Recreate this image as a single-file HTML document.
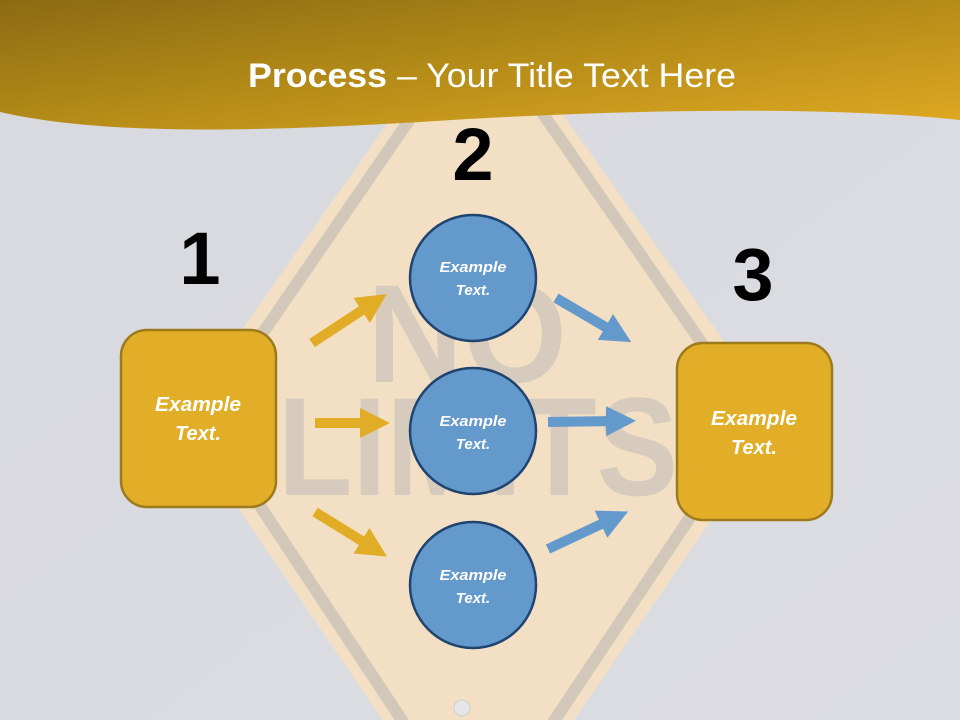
<!DOCTYPE html>
<html><head><style>
body{margin:0;width:960px;height:720px;overflow:hidden;font-family:"Liberation Sans",sans-serif}
</style></head><body>
<svg width="960" height="720" viewBox="0 0 960 720" xmlns="http://www.w3.org/2000/svg" style="display:block">
<defs>
<linearGradient id="bg" x1="0" y1="0" x2="1" y2="1"><stop offset="0" stop-color="#d8d9de"/><stop offset="1" stop-color="#dcdde3"/></linearGradient>
<linearGradient id="gold" x1="0" y1="0" x2="1" y2="1"><stop offset="0" stop-color="#8d6a12"/><stop offset="0.5" stop-color="#b58c18"/><stop offset="1" stop-color="#e0aa22"/></linearGradient>
<marker id="ag" markerWidth="3" markerHeight="3" refX="1" refY="1.5" orient="auto"><path d="M0,0 L3,1.5 L0,3 z" fill="#e1ad26"/></marker>
<marker id="ab" markerWidth="3" markerHeight="3" refX="1" refY="1.5" orient="auto"><path d="M0,0 L3,1.5 L0,3 z" fill="#6499cc"/></marker>
</defs>
<rect width="960" height="720" fill="url(#bg)"/>
<polygon points="478,-5 780,420 478,860 178,420" fill="#f3e0c4"/>
<polygon points="478,20 755,420 478,835 203,420" fill="none" stroke="#d2c8ba" stroke-width="12"/>
<text x="467" y="382" text-anchor="middle" font-size="140" font-weight="bold" fill="#d6cbbc" textLength="200" lengthAdjust="spacingAndGlyphs">NO</text>
<text x="478" y="495" text-anchor="middle" font-size="140" font-weight="bold" fill="#d6cbbc" textLength="400" lengthAdjust="spacingAndGlyphs">LIMITS</text>
<circle cx="462" cy="708" r="8" fill="#e6e6e6" stroke="#cfcfcf"/>
<path d="M0,0 H960 V120 C820,105 600,110 420,122 C250,132 100,135 0,112 Z" fill="url(#gold)"/>
<text x="492" y="87" text-anchor="middle" font-size="34" fill="#fff" textLength="488" lengthAdjust="spacingAndGlyphs"><tspan font-weight="bold">Process</tspan> – Your Title Text Here</text>
<g font-size="74" font-weight="bold" fill="#000" text-anchor="middle">
<text x="200" y="284">1</text><text x="473" y="180">2</text><text x="753" y="300">3</text></g>
<g stroke-width="10" fill="none">
<line x1="312" y1="343" x2="370" y2="305" stroke="#e1ad26" marker-end="url(#ag)"/>
<line x1="315" y1="423" x2="370" y2="423" stroke="#e1ad26" marker-end="url(#ag)"/>
<line x1="315" y1="512" x2="370" y2="546" stroke="#e1ad26" marker-end="url(#ag)"/>
<line x1="556" y1="298" x2="614" y2="332" stroke="#6499cc" marker-end="url(#ab)"/>
<line x1="548" y1="422" x2="616" y2="421" stroke="#6499cc" marker-end="url(#ab)"/>
<line x1="548" y1="549" x2="610" y2="520" stroke="#6499cc" marker-end="url(#ab)"/>
</g>
<rect x="121" y="330" width="155" height="177" rx="26" fill="#e2ae27" stroke="#9d7a1c" stroke-width="2.5"/>
<rect x="677" y="343" width="155" height="177" rx="26" fill="#e2ae27" stroke="#9d7a1c" stroke-width="2.5"/>
<g fill="#6499cc" stroke="#1f4470" stroke-width="2.5">
<circle cx="473" cy="278" r="63"/><circle cx="473" cy="431" r="63"/><circle cx="473" cy="585" r="63"/></g>
<g fill="#fff" font-style="italic" font-weight="bold" text-anchor="middle">
<g font-size="20"><text x="198" y="411" textLength="86" lengthAdjust="spacingAndGlyphs">Example</text><text x="198" y="440">Text.</text>
<text x="754" y="425" textLength="86" lengthAdjust="spacingAndGlyphs">Example</text><text x="754" y="454">Text.</text></g>
<g font-size="15"><text x="473" y="272" textLength="67" lengthAdjust="spacingAndGlyphs">Example</text><text x="473" y="295">Text.</text>
<text x="473" y="426" textLength="67" lengthAdjust="spacingAndGlyphs">Example</text><text x="473" y="449">Text.</text>
<text x="473" y="580" textLength="67" lengthAdjust="spacingAndGlyphs">Example</text><text x="473" y="603">Text.</text></g>
</g>
</svg>
</body></html>
